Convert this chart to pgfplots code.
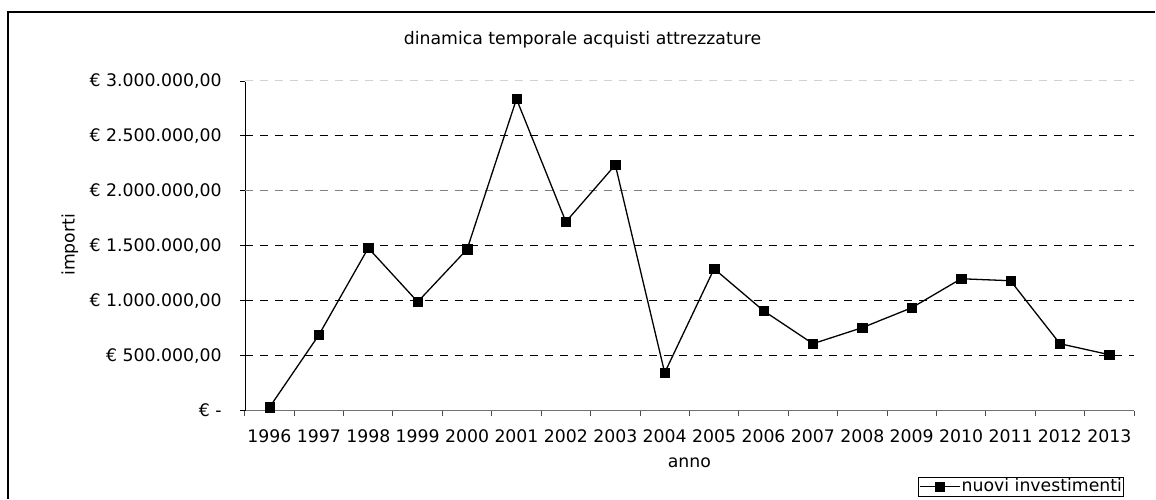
\documentclass[border=0pt]{standalone}
\usepackage{fontspec}
\setmainfont{DejaVu Sans}
\usepackage{pgfplots}
\pgfplotsset{compat=1.18}
\newcommand{\myfont}{\fontsize{17.3}{20}\selectfont}
\begin{document}
\myfont
\begin{tikzpicture}[x=1pt,y=1pt]
\path (-245,-88) rectangle (911,411);
\draw[line width=2pt] (-237,-88) -- (-237,399) -- (911,399);
\node[font=\myfont] at (338,371) {dinamica temporale acquisti attrezzature};
\node[font=\myfont] at (445,-52) {anno};
\node[rotate=90, font=\myfont] at (-175,166) {importi};
\begin{axis}[
  at={(0,0)}, anchor=south west,
  scale only axis, width=890pt, height=330pt,
  xmin=0, xmax=18, ymin=0, ymax=3000000,
  axis x line*=bottom, axis y line*=left,
  axis line style={-},
  x axis line style={draw=black!55},
  xtick={0.5,1.5,...,17.5},
  xticklabels={1996,1997,1998,1999,2000,2001,2002,2003,2004,2005,2006,2007,2008,2009,2010,2011,2012,2013},
  xtick style={draw=none},
  minor xtick={0,1,...,18},
  minor x tick style={draw=black!70, line width=1pt},
  minor tick length=5pt,
  major tick length=5pt,
  tick align=outside,
  ytick={0,500000,1000000,1500000,2000000,2500000,3000000},
  yticklabels={{€ -\hspace{22pt}},{€ 500.000,00},{€ 1.000.000,00},{€ 1.500.000,00},{€ 2.000.000,00},{€ 2.500.000,00},{€ 3.000.000,00}},
  ytick style={draw=black, line width=0.8pt},
  scaled y ticks=false,
  ymajorgrids,
  major grid style={black, dash pattern=on 8pt off 7pt, line width=1pt},
  tick label style={font=\myfont},
  yticklabel style={anchor=east, inner sep=0pt, xshift=-18pt},
  xticklabel style={anchor=base, inner sep=0pt, yshift=-27pt},
  legend style={at={(0.98876,-0.2606)}, anchor=south east, draw=black, line width=0.8pt,
    font=\myfont, inner sep=0.5pt, nodes={inner sep=1.2pt}},
  legend image code/.code={\draw[mark repeat=2,mark phase=2,#1] plot coordinates {(0pt,0pt) (20pt,0pt) (40pt,0pt)};},
  clip=false,
]
\draw[white, line width=2pt] (axis cs:0,3000000) -- (axis cs:18,3000000);
\draw[black!18, line width=1pt, dash pattern=on 8pt off 7pt] (axis cs:0,3000000) -- (axis cs:18,3000000);
\draw[black!50, line width=1.3pt, dash pattern=on 8pt off 7pt] (axis cs:0,2000000) -- (axis cs:18,2000000);
\addplot[black, line width=1.3pt, mark=square*, mark size=4.7pt, mark options={solid, line width=0.5pt}] coordinates {
(0.5,30000) (1.5,689000) (2.5,1480000) (3.5,990000) (4.5,1468000) (5.5,2836000)
(6.5,1718000) (7.5,2236000) (8.5,345000) (9.5,1291000) (10.5,909000) (11.5,609000)
(12.5,755000) (13.5,936000) (14.5,1200000) (15.5,1182000) (16.5,609000) (17.5,509000)
};
\addlegendentry{nuovi investimenti}
\end{axis}
\end{tikzpicture}
\end{document}
